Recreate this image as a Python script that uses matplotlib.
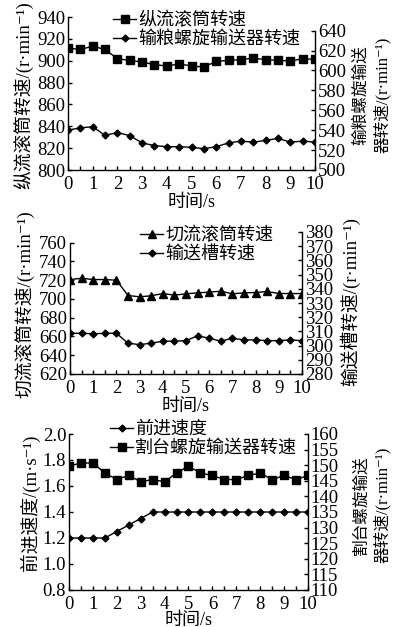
import numpy as np
import matplotlib
matplotlib.use("Agg")
import matplotlib.pyplot as plt

plt.rcParams['font.family'] = ['Liberation Serif', 'Noto Sans CJK SC', 'DejaVu Serif']
plt.rcParams['font.size'] = 13
plt.rcParams['axes.unicode_minus'] = False

# time axis (s)
t = np.arange(0, 10.01, 0.5)

# panel 1
zl_drum = [911.5, 910.3, 913.3, 910.3, 901.8, 900.3, 898.8, 896.4, 895.2, 897.0, 895.2,
           894.2, 899.4, 900.3, 900.9, 902.4, 900.9, 900.3, 899.7, 901.8, 901.2]
grain_auger = [540.0, 542.4, 543.4, 534.8, 537.6, 534.5, 527.2, 524.5, 523.4, 523.4, 522.8,
               521.4, 523.4, 527.2, 529.0, 528.0, 529.7, 531.7, 528.0, 529.0, 528.0]

# panel 2
ql_drum = [720.7, 722.1, 720.7, 720.7, 720.0, 703.7, 702.3, 703.4, 705.8, 704.1, 705.5,
           706.5, 707.3, 708.3, 705.5, 706.5, 706.9, 708.0, 705.8, 705.8, 705.8]
feeder = [308.7, 308.7, 308.3, 308.7, 308.7, 301.7, 300.7, 301.7, 303.1, 303.1, 303.5,
          306.9, 305.2, 303.1, 305.2, 304.0, 304.0, 303.5, 303.5, 304.0, 303.5]

# panel 3
speed = [1.2, 1.2, 1.2, 1.2, 1.25, 1.3, 1.35, 1.4, 1.4, 1.4, 1.4,
         1.4, 1.4, 1.4, 1.4, 1.4, 1.4, 1.4, 1.4, 1.4, 1.4]
header_auger = [149.7, 150.7, 150.7, 147.5, 145.4, 146.7, 144.7, 145.4, 144.7, 147.5, 149.7,
                147.5, 146.7, 145.4, 145.4, 146.7, 147.5, 145.4, 146.7, 145.4, 146.7]

W, H = 396, 627
fig = plt.figure(figsize=(W / 100, H / 100), dpi=100)


def box(x0, x1, ytop, ybot):
    return [x0 / W, 1 - ybot / H, (x1 - x0) / W, (ybot - ytop) / H]


def style(ax, right=False):
    ax.spines['top'].set_visible(False)
    if not right:
        ax.spines['right'].set_visible(False)
    ax.tick_params(direction='in', length=3, width=1, pad=2, labelsize=13.5)
    for s in ax.spines.values():
        s.set_linewidth(1)


def xaxis(ax, pad=1):
    ax.set_xlim(0, 10)
    ax.set_xticks(range(0, 11))
    ax.set_xticks(np.arange(0.5, 10, 1), minor=True)
    ax.tick_params(axis='x', which='both', direction='in', length=3, width=1, pad=4)
    ax.set_xlabel('时间/s', fontsize=13, labelpad=pad)


def legend(ax, handles, x, y):
    ax.legend(handles=handles, loc='upper left', bbox_to_anchor=(x / W, 1 - y / H),
              bbox_transform=fig.transFigure, frameon=False, borderpad=0, borderaxespad=0,
              handlelength=1.3, handletextpad=0.1, labelspacing=0.12, fontsize=13)


line_kw = dict(color='black', lw=1.0)
mi = '/(r·min⁻¹)'

# ---- panel 1
ax1 = fig.add_axes(box(68, 315, 17, 170))
ax2 = ax1.twinx()
h1, = ax1.plot(t, zl_drum, marker='s', ms=5.5, label='纵流滚筒转速', **line_kw)
h2, = ax2.plot(t, grain_auger, marker='D', ms=3.5, label='输粮螺旋输送器转速', **line_kw)
ax1.set_ylim(800, 940)
ax1.set_yticks(range(800, 941, 20))
ax2.set_ylim(500, 500 + 140 * 153 / 139.4)
ax2.set_yticks(range(500, 641, 20))
ax2.spines['right'].set_bounds(500, 640)
style(ax1)
style(ax2, right=True)
ax2.spines['left'].set_visible(False)
ax2.spines['bottom'].set_visible(False)
xaxis(ax1)
legend(ax1, [h1, h2], 113, 12)
fig.text(23 / W, 1 - 95 / H, '纵流滚筒转速' + mi, rotation=90, ha='center', va='center',
         fontsize=13.5)
fig.text(372 / W, 1 - 95 / H, '输粮螺旋输送\n器转速' + mi, rotation=90, ha='center',
         va='center', multialignment='center', linespacing=1.25, fontsize=12)

# ---- panel 2
ax3 = fig.add_axes(box(70, 302, 232, 374))
ax4 = ax3.twinx()
h3, = ax3.plot(t, ql_drum, marker='^', ms=6, label='切流滚筒转速', **line_kw)
h4, = ax4.plot(t, feeder, marker='D', ms=3.5, label='输送槽转速', **line_kw)
ax3.set_ylim(620, 620 + 140 * 142 / 131.3)
ax3.set_yticks(range(620, 761, 20))
ax3.spines['left'].set_bounds(620, 760)
ax4.set_ylim(280, 380)
ax4.set_yticks(range(280, 381, 10))
style(ax3)
style(ax4, right=True)
ax4.spines['left'].set_visible(False)
ax4.spines['bottom'].set_visible(False)
xaxis(ax3)
legend(ax3, [h3, h4], 140, 227)
fig.text(25 / W, 1 - 304 / H, '切流滚筒转速' + mi, rotation=90, ha='center', va='center',
         fontsize=13.5)
fig.text(350 / W, 1 - 301 / H, '输送槽转速' + mi, rotation=90, ha='center', va='center',
         fontsize=13.5)

# ---- panel 3
ax5 = fig.add_axes(box(69, 308, 434, 590))
ax6 = ax5.twinx()
h5, = ax5.plot(t, speed, marker='D', ms=3.5, label='前进速度', **line_kw)
h6, = ax6.plot(t, header_auger, marker='s', ms=5.5, label='割台螺旋输送器转速', **line_kw)
ax5.set_ylim(0.8, 2.0)
ax5.set_yticks(np.arange(0.8, 2.01, 0.2))
ax5.set_yticklabels(['0.8', '1.0', '1.2', '1.4', '1.6', '1.8', '2.0'])
ax6.set_ylim(110, 160)
ax6.set_yticks(range(110, 161, 5))
style(ax5)
style(ax6, right=True)
ax6.spines['left'].set_visible(False)
ax6.spines['bottom'].set_visible(False)
xaxis(ax5, pad=-0.5)
legend(ax5, [h5, h6], 110, 421)
fig.text(30 / W, 1 - 503 / H, '前进速度/(m·s⁻¹)', rotation=90, ha='center', va='center',
         fontsize=13.5)
fig.text(372 / W, 1 - 505 / H, '割台螺旋输送\n器转速' + mi, rotation=90, ha='center',
         va='center', multialignment='center', linespacing=1.25, fontsize=12)

fig.savefig('out.png', dpi=100)
